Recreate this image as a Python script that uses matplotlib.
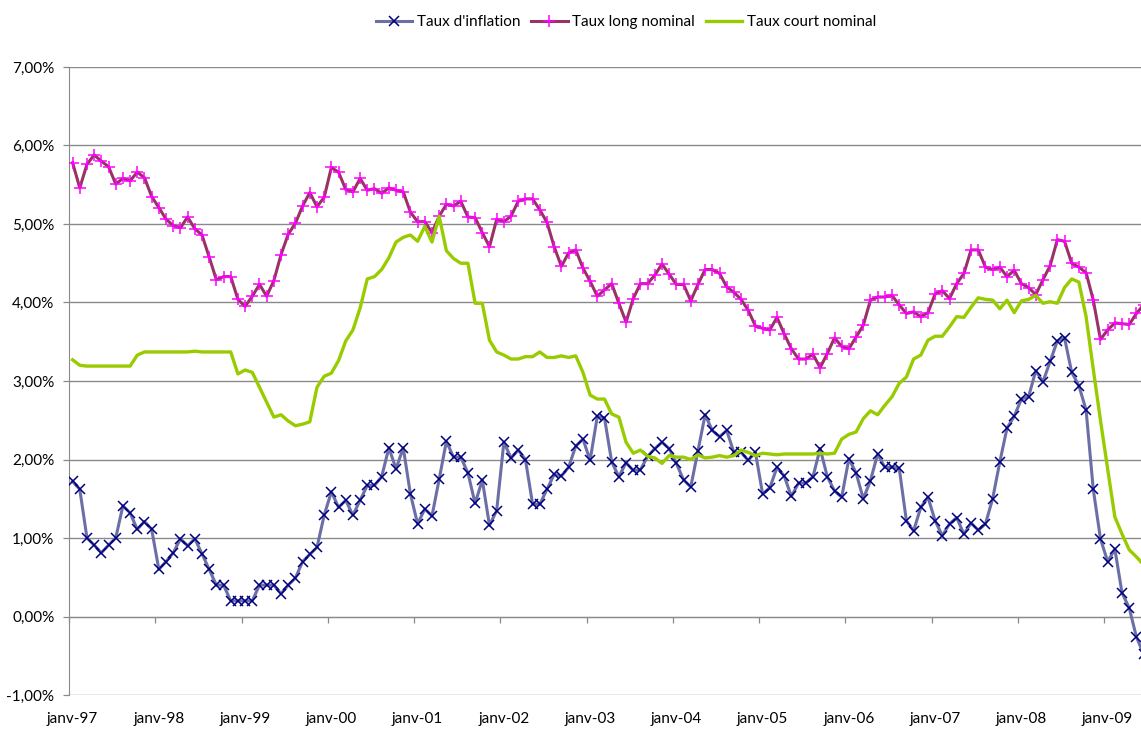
import matplotlib
matplotlib.use("Agg")
import matplotlib.pyplot as plt
import pandas as pd

# ---------------- data (monthly, janv-97 .. juin-09) ----------------
months = pd.date_range("1997-01-01", periods=150, freq="MS")

inflation = [
    1.72, 1.62, 1.00, 0.91, 0.81, 0.91, 1.00, 1.41, 1.32, 1.11, 1.21, 1.11,
    0.60, 0.70, 0.81, 0.99, 0.90, 0.99, 0.80, 0.60, 0.40, 0.40, 0.20, 0.20,
    0.20, 0.20, 0.40, 0.40, 0.40, 0.29, 0.40, 0.49, 0.70, 0.79, 0.88, 1.29,
    1.59, 1.39, 1.48, 1.29, 1.48, 1.67, 1.67, 1.78, 2.15, 1.88, 2.15, 1.56,
    1.18, 1.37, 1.28, 1.75, 2.23, 2.03, 2.03, 1.83, 1.44, 1.74, 1.16, 1.35,
    2.22, 2.02, 2.12, 2.00, 1.43, 1.43, 1.62, 1.81, 1.79, 1.90, 2.17, 2.26,
    1.99, 2.55, 2.53, 1.97, 1.78, 1.96, 1.86, 1.87, 2.04, 2.14, 2.22, 2.14,
    1.95, 1.74, 1.65, 2.11, 2.57, 2.37, 2.29, 2.37, 2.09, 2.09, 1.99, 2.09,
    1.56, 1.64, 1.90, 1.79, 1.53, 1.70, 1.70, 1.78, 2.14, 1.78, 1.60, 1.52,
    2.01, 1.83, 1.50, 1.73, 2.07, 1.90, 1.90, 1.89, 1.22, 1.09, 1.39, 1.52,
    1.22, 1.03, 1.18, 1.26, 1.05, 1.19, 1.10, 1.18, 1.50, 1.97, 2.40, 2.55,
    2.77, 2.80, 3.13, 2.99, 3.25, 3.51, 3.55, 3.11, 2.94, 2.63, 1.62, 0.99,
    0.70, 0.86, 0.30, 0.11, -0.26, -0.48,
]

long_rate = [
    5.78, 5.46, 5.76, 5.88, 5.80, 5.73, 5.51, 5.58, 5.55, 5.66, 5.59, 5.35,
    5.21, 5.06, 4.98, 4.95, 5.09, 4.94, 4.86, 4.58, 4.29, 4.33, 4.33, 4.04,
    3.95, 4.08, 4.23, 4.08, 4.28, 4.61, 4.87, 5.01, 5.23, 5.40, 5.22, 5.34,
    5.72, 5.66, 5.44, 5.41, 5.58, 5.43, 5.45, 5.39, 5.46, 5.43, 5.41, 5.15,
    5.03, 5.03, 4.89, 5.10, 5.25, 5.23, 5.29, 5.09, 5.08, 4.89, 4.71, 5.06,
    5.03, 5.10, 5.29, 5.32, 5.32, 5.18, 5.02, 4.71, 4.46, 4.63, 4.67, 4.44,
    4.27, 4.08, 4.16, 4.24, 3.99, 3.75, 4.05, 4.24, 4.24, 4.35, 4.49, 4.36,
    4.23, 4.23, 4.02, 4.23, 4.42, 4.42, 4.37, 4.20, 4.13, 4.04, 3.90, 3.70,
    3.67, 3.65, 3.81, 3.60, 3.41, 3.28, 3.28, 3.34, 3.17, 3.35, 3.55, 3.44,
    3.41, 3.56, 3.71, 4.03, 4.07, 4.07, 4.09, 3.97, 3.86, 3.88, 3.82, 3.87,
    4.11, 4.15, 4.05, 4.24, 4.37, 4.67, 4.67, 4.45, 4.42, 4.45, 4.33, 4.41,
    4.24, 4.19, 4.10, 4.29, 4.47, 4.80, 4.78, 4.50, 4.45, 4.38, 4.03, 3.53,
    3.65, 3.74, 3.73, 3.72, 3.86, 3.97,
]

short_rate = [
    3.27, 3.20, 3.19, 3.19, 3.19, 3.19, 3.19, 3.19, 3.19, 3.33, 3.37, 3.37,
    3.37, 3.37, 3.37, 3.37, 3.37, 3.38, 3.37, 3.37, 3.37, 3.37, 3.37, 3.09,
    3.14, 3.11, 2.92, 2.73, 2.54, 2.57, 2.49, 2.43, 2.45, 2.48, 2.92, 3.06,
    3.10, 3.26, 3.51, 3.65, 3.93, 4.30, 4.33, 4.42, 4.57, 4.77, 4.83, 4.86,
    4.78, 4.97, 4.77, 5.10, 4.66, 4.56, 4.50, 4.50, 3.99, 3.99, 3.52, 3.37,
    3.33, 3.28, 3.28, 3.31, 3.31, 3.37, 3.30, 3.30, 3.32, 3.30, 3.32, 3.11,
    2.82, 2.77, 2.77, 2.58, 2.54, 2.22, 2.08, 2.12, 2.04, 2.02, 1.95, 2.05,
    2.03, 2.03, 2.00, 2.06, 2.02, 2.03, 2.05, 2.03, 2.05, 2.12, 2.09, 2.05,
    2.08, 2.07, 2.06, 2.07, 2.07, 2.07, 2.07, 2.07, 2.08, 2.07, 2.08, 2.26,
    2.32, 2.35, 2.52, 2.62, 2.57, 2.69, 2.80, 2.97, 3.05, 3.28, 3.33, 3.52,
    3.57, 3.57, 3.69, 3.82, 3.81, 3.94, 4.06, 4.04, 4.03, 3.92, 4.03, 3.87,
    4.02, 4.04, 4.09, 3.99, 4.01, 3.99, 4.19, 4.30, 4.26, 3.82, 3.15, 2.50,
    1.88, 1.27, 1.05, 0.85, 0.76, 0.66,
]

year_labels = ["janv-97", "janv-98", "janv-99", "janv-00", "janv-01", "janv-02",
               "janv-03", "janv-04", "janv-05", "janv-06", "janv-07", "janv-08",
               "janv-09"]
y_ticks = [-1, 0, 1, 2, 3, 4, 5, 6, 7]

series_names = ["Taux d'inflation", "Taux long nominal", "Taux court nominal"]

# ---------------- figure ----------------
plt.rcParams["font.family"] = ["Lato", "DejaVu Sans"]
W, H = 1141, 731
fig = plt.figure(figsize=(W / 100, H / 100), dpi=100)
ax = fig.add_axes([69 / W, 1 - 695 / H, 1 - 69 / W, (695 - 67) / H])

x = list(range(len(months)))
grid_c = "#8a8a8a"

ax.plot(x, inflation, color="#6b6fa6", lw=2.2, marker="x", ms=7.5,
        mec="#000080", mew=1.1, label=series_names[0], zorder=3)
ax.plot(x, long_rate, color="#993366", lw=2.2, marker="+", ms=9,
        mec="#ff00ff", mew=1.1, label=series_names[1], zorder=4)
ax.plot(x, short_rate, color="#99cc00", lw=2.4, label=series_names[2], zorder=5)

# y axis
ax.set_yticks(y_ticks)
ax.set_yticklabels([f"{v:.2f}%".replace(".", ",") for v in y_ticks])
ax.yaxis.grid(True, color=grid_c, lw=1.0)
ax.set_axisbelow(True)
ax.tick_params(axis="y", direction="out", length=4.5, width=0.9, color=grid_c,
               pad=6, labelsize=11, labelcolor="#000000")

# x axis line at 0 with yearly tick marks
ax.spines["bottom"].set_position(("data", 0))
ax.spines["bottom"].set_color(grid_c)
ax.spines["left"].set_color(grid_c)
ax.spines["top"].set_visible(False)
ax.spines["right"].set_visible(False)
year_starts = [12 * k - 0.5 for k in range(len(year_labels) + 1)]
ax.set_xticks(year_starts)
ax.set_xticklabels([])
ax.tick_params(axis="x", direction="out", length=4.5, width=0.9, color=grid_c)

# labels at bottom
sec = ax.secondary_xaxis(0.0)
sec.set_xticks([12 * k for k in range(len(year_labels))])
sec.set_xticklabels(year_labels)
sec.tick_params(axis="x", length=0, pad=12, labelsize=11)
sec.spines["bottom"].set_visible(False)

ax.set_xlim(-0.5, 148.64)
ax.set_ylim(-1, 7)

leg = fig.legend(loc="center", bbox_to_anchor=(626 / W, 1 - 22 / H), ncol=3,
                 frameon=False, fontsize=11, handlelength=2.4,
                 handletextpad=0.3, columnspacing=0.7, numpoints=1)

fig.savefig("out.png", dpi=100)
